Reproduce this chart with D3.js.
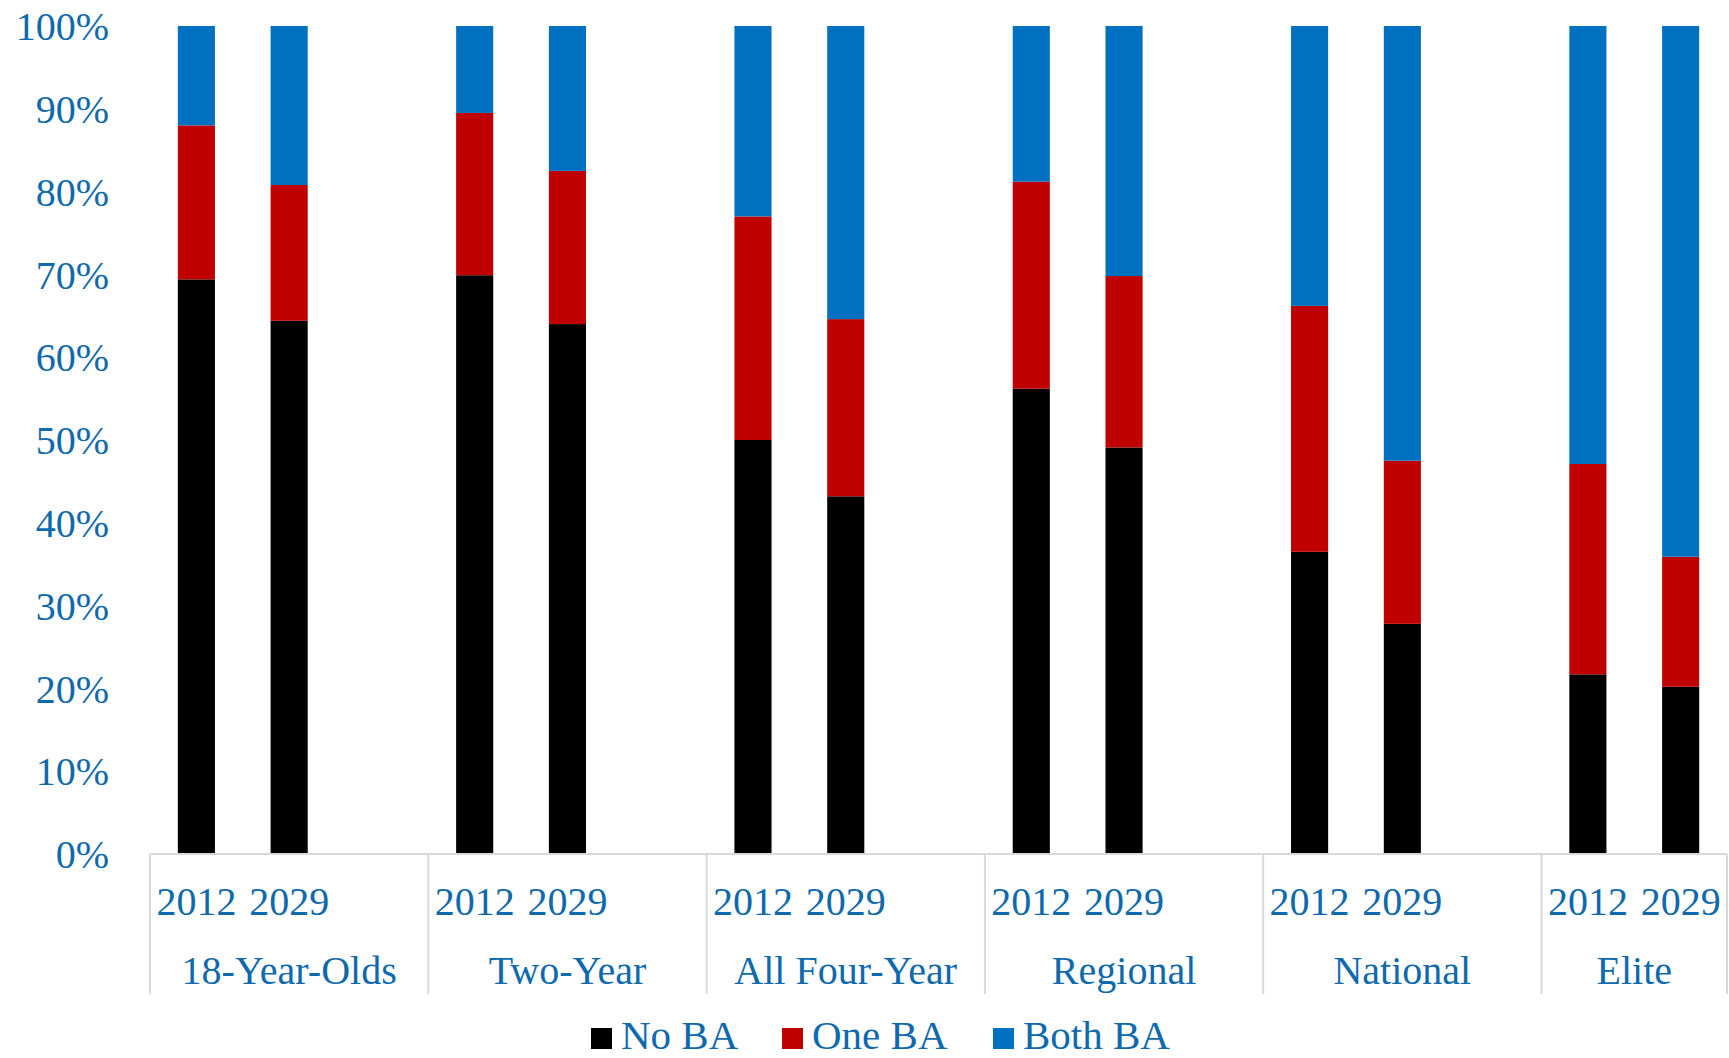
<!DOCTYPE html>
<html>
<head>
<meta charset="utf-8">
<script src="https://cdn.jsdelivr.net/npm/d3@7"></script>
<style>
  html, body { margin: 0; padding: 0; background: #fff; }
  svg { display: block; }
</style>
</head>
<body>
<svg id="chart" width="1729" height="1058"></svg>
<script>
// ---- Data ----
const categories = ["18-Year-Olds", "Two-Year", "All Four-Year", "Regional", "National", "Elite"];
const years = ["2012", "2029"];
const seriesNames = ["No BA", "One BA", "Both BA"];
// Percent values (stacks add to 100)
const noBA2012   = [69.4, 69.9, 50.0, 56.2, 36.5, 21.7];
const noBA2029   = [64.4, 64.0, 43.2, 49.1, 27.8, 20.2];
const oneBA2012  = [18.6, 19.6, 27.0, 25.0, 29.7, 25.4];
const oneBA2029  = [16.4, 18.5, 21.4, 20.7, 19.7, 15.7];
const bothBA2012 = [12.0, 10.5, 23.0, 18.8, 33.8, 52.9];
const bothBA2029 = [19.2, 17.5, 35.4, 30.2, 52.5, 64.1];
const yTicks = [0, 10, 20, 30, 40, 50, 60, 70, 80, 90, 100];

// ---- Styles ----
const colors = ["#000000", "#C00000", "#0070C0"];
const textColor = "#0F69AD";
const lineColor = "#D9D9D9";
const fontFamily = "'Liberation Serif', 'Times New Roman', serif";

const svg = d3.select("#chart");
const W = 1729, H = 1058;
const plotLeft = 150, plotTop = 26, plotBottom = 854;
const catWidth = 278.3;
const visibleRight = 1727;

// Build table
const rows = [];
categories.forEach((c, i) => {
  rows.push({cat: c, year: "2012", vals: [noBA2012[i], oneBA2012[i], bothBA2012[i]]});
  rows.push({cat: c, year: "2029", vals: [noBA2029[i], oneBA2029[i], bothBA2029[i]]});
});

const x = d3.scaleBand().domain(categories)
  .range([plotLeft, plotLeft + catWidth * categories.length]).padding(0);
const slot = d3.scaleBand().domain([...years, "gap"]).range([0, x.bandwidth()]).padding(0);
const barW = slot.bandwidth() * 0.4;
const y = d3.scaleLinear().domain([0, 100]).range([plotBottom, plotTop]);

svg.append("defs").append("clipPath").attr("id", "clip")
  .append("rect").attr("x", 0).attr("y", 0).attr("width", visibleRight + 1).attr("height", H);

const g = svg.append("g").attr("clip-path", "url(#clip)");

// Stacked bars
const stack = d3.stack().keys([0, 1, 2]).value((d, k) => d.vals[k]);
const stacked = stack(rows);
stacked.forEach((layer, k) => {
  g.append("g").selectAll("rect").data(layer).join("rect")
    .attr("x", d => x(d.data.cat) + slot(d.data.year) + (slot.bandwidth() - barW) / 2)
    .attr("width", barW)
    .attr("y", d => y(d[1]))
    .attr("height", d => y(d[0]) - y(d[1]))
    .attr("fill", colors[k]);
});

// Y axis labels
const yAxis = d3.axisLeft(y).tickValues(yTicks).tickFormat(d => d + "%").tickSize(0).tickPadding(0);
const ya = svg.append("g").attr("transform", `translate(${109},0)`).call(yAxis);
ya.select(".domain").remove();
ya.selectAll("text")
  .attr("fill", textColor)
  .style("font-family", fontFamily)
  .style("font-size", "40px")
  .attr("dy", "0.34em");

// X axis line
const axisG = svg.append("g");
axisG.append("line")
  .attr("x1", plotLeft).attr("x2", visibleRight)
  .attr("y1", plotBottom).attr("y2", plotBottom)
  .attr("stroke", lineColor).attr("stroke-width", 2);

// Category separators
const sepXs = categories.map(c => x(c)).concat([visibleRight]);
axisG.selectAll("line.sep").data(sepXs).join("line")
  .attr("class", "sep")
  .attr("x1", d => Math.min(d, visibleRight)).attr("x2", d => Math.min(d, visibleRight))
  .attr("y1", plotBottom).attr("y2", 994)
  .attr("stroke", lineColor).attr("stroke-width", 2);

// Year labels
axisG.selectAll("text.year").data(rows).join("text")
  .attr("class", "year")
  .attr("x", d => x(d.cat) + slot(d.year) + slot.bandwidth() / 2)
  .attr("y", 915)
  .attr("text-anchor", "middle")
  .attr("fill", textColor)
  .style("font-family", fontFamily)
  .style("font-size", "40px")
  .text(d => d.year);

// Category labels (centered in visible part)
axisG.selectAll("text.cat").data(categories).join("text")
  .attr("class", "cat")
  .attr("x", d => (x(d) + Math.min(x(d) + x.bandwidth(), visibleRight)) / 2)
  .attr("y", 984)
  .attr("text-anchor", "middle")
  .attr("fill", textColor)
  .style("font-family", fontFamily)
  .style("font-size", "40px")
  .text(d => d);

// Legend
const legendX = [591, 782, 993];
const legend = svg.append("g");
seriesNames.forEach((s, i) => {
  legend.append("rect")
    .attr("x", legendX[i]).attr("y", 1028)
    .attr("width", 21).attr("height", 21)
    .attr("fill", colors[i]);
  legend.append("text")
    .attr("x", legendX[i] + 30).attr("y", 1049)
    .attr("fill", textColor)
    .style("font-family", fontFamily)
    .style("font-size", "41px")
    .text(s);
});
</script>
</body>
</html>
